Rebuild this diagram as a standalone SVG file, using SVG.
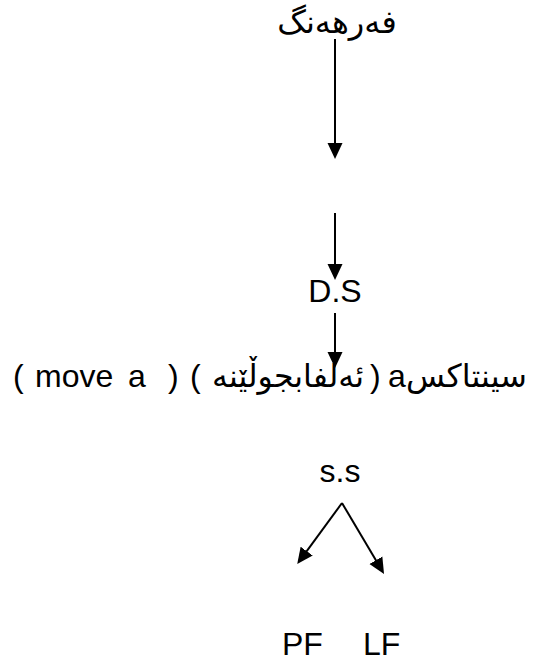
<svg xmlns="http://www.w3.org/2000/svg" width="533" height="664" viewBox="0 0 533 664">
<style>
text{font-family:"Liberation Sans","DejaVu Sans",sans-serif;font-size:32px;fill:#000}
.c{text-anchor:middle}
.r{direction:rtl;text-anchor:start}
line{stroke:#000;stroke-width:2;fill:none;marker-end:url(#ah)}
</style>
<defs>
<marker id="ah" markerUnits="userSpaceOnUse" markerWidth="16" markerHeight="16" viewBox="0 0 16 16" refX="12" refY="8" orient="auto">
<path d="M0,0.5 L16,8 L0,15.5 z" fill="#000"/>
</marker>
</defs>
<rect width="533" height="664" fill="#fff"/>
<g id="lexicon"><text class="c" x="337" y="33" direction="rtl">فەرهەنگ</text></g>
<g id="ds"><text class="c" x="335" y="302">D.S</text></g>
<g id="syntax">
<text x="13" y="387">(</text>
<text x="35" y="387">move</text>
<text x="128" y="387">a</text>
<text x="168" y="387">)</text>
<text x="190" y="387">(</text>
<text class="r" x="364" y="387" textLength="152" lengthAdjust="spacingAndGlyphs">ئەلفابجوڵێنە</text>
<text x="370" y="387">)</text>
<text x="388" y="387">a</text>
<text class="r" x="527" y="387" textLength="121" lengthAdjust="spacingAndGlyphs">سینتاکس</text>
</g>
<g id="ss"><text class="c" x="340" y="482">s.s</text></g>
<g id="pf"><text x="282" y="655">PF</text></g>
<g id="lf"><text x="363" y="655">LF</text></g>
<g id="connectors">
<line x1="335" y1="39" x2="335" y2="155"/>
<line x1="335" y1="213" x2="335" y2="276"/>
<line x1="335" y1="313" x2="335" y2="364"/>
<line x1="342" y1="503" x2="299.6" y2="560.8"/>
<line x1="342" y1="503" x2="382" y2="570.6"/>
</g>
</svg>
